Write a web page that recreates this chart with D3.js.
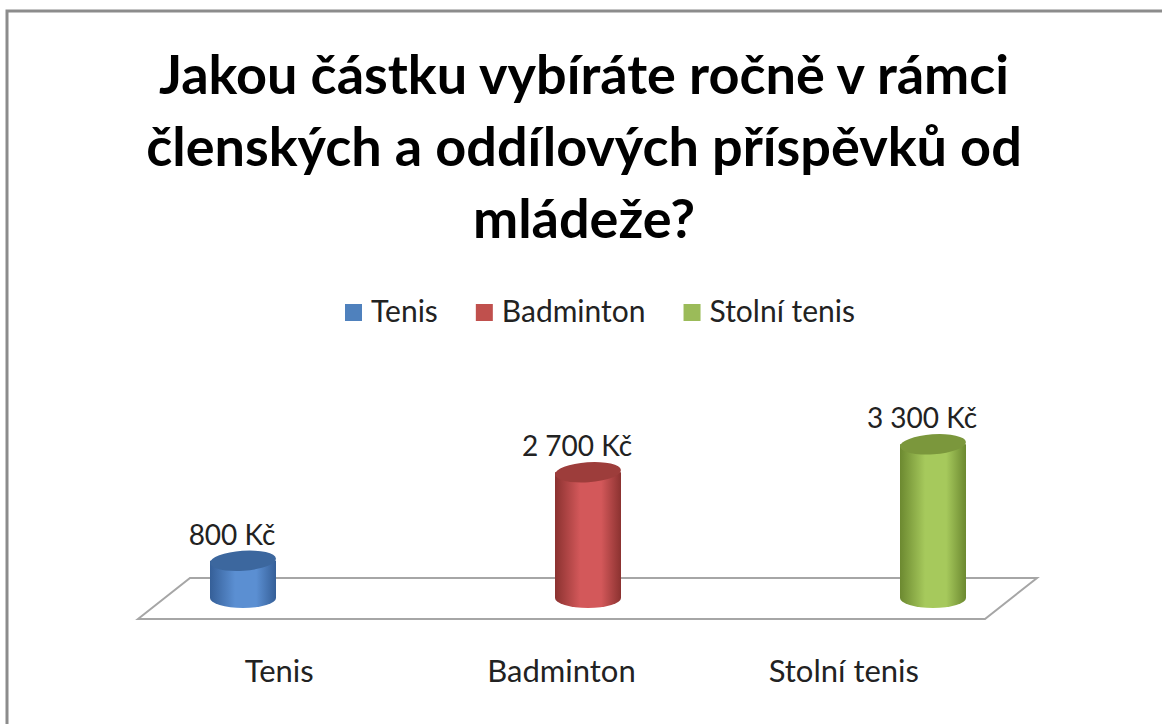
<!DOCTYPE html>
<html>
<head>
<meta charset="utf-8">
<script src="https://cdn.jsdelivr.net/npm/d3@7"></script>
<style>
  body { margin: 0; background: #fff; }
  text { font-family: Lato, "Open Sans", sans-serif; }
</style>
</head>
<body>
<div id="chart"></div>
<script>
const titleLines = ["Jakou částku vybíráte ročně v rámci", "členských a oddílových příspěvků od", "mládeže?"];
const categories = ["Tenis", "Badminton", "Stolní tenis"];
const values = [800, 2700, 3300];
const valueLabels = ["800 Kč", "2 700 Kč", "3 300 Kč"];
const colors = [
  { edge: "#355f98", mid: "#5b8fd2", top: "#3c679e", legend: "#4f81bd" },
  { edge: "#8b3230", mid: "#d3585a", top: "#9d3d3b", legend: "#c0504d" },
  { edge: "#6c8930", mid: "#a6c95c", top: "#7b973c", legend: "#9bbb59" }
];

const width = 1162, height = 724;
const svg = d3.select("#chart").append("svg")
  .attr("width", width).attr("height", height);

// outer frame
svg.append("path")
  .attr("d", `M7,${height} L7,11 L${width},11`)
  .attr("fill", "none").attr("stroke", "#8c8c8c").attr("stroke-width", 3);

// title
svg.append("g").selectAll("text").data(titleLines).join("text")
  .attr("x", 584)
  .attr("y", (d, i) => 94 + i * 72)
  .attr("text-anchor", "middle")
  .style("font-size", "54px")
  .style("font-weight", "bold")
  .attr("fill", "#000")
  .text(d => d);

// legend
const legend = svg.append("g");
let lx = 345;
categories.forEach((c, i) => {
  legend.append("rect").attr("x", lx).attr("y", 304).attr("width", 17).attr("height", 17)
    .attr("fill", colors[i].legend);
  const t = legend.append("text").attr("x", lx + 26).attr("y", 322)
    .style("font-size", "30px").attr("fill", "#222").text(c);
  lx += 26 + t.node().getComputedTextLength() + 38;
});

// floor (3D plane)
const floor = { fl: 138, fr: 985, fy: 619, bl: 190, br: 1037, by: 578 };
svg.append("path")
  .attr("d", `M${floor.fl},${floor.fy} L${floor.bl},${floor.by} L${floor.br},${floor.by} L${floor.fr},${floor.fy} Z`)
  .attr("fill", "#fff").attr("stroke", "#a6a6a6").attr("stroke-width", 2);

// scales
const xCyl = d3.scalePoint().domain(categories).range([243, 933]);
const xLab = d3.scaleBand().domain(categories).range([floor.fl, floor.fr]);
const y = d3.scaleLinear().domain([0, 3500]).range([598, 435]);

const defs = svg.append("defs");
colors.forEach((c, i) => {
  const g = defs.append("linearGradient").attr("id", "g" + i)
    .attr("x1", "0%").attr("x2", "100%").attr("y1", "0%").attr("y2", "0%");
  g.append("stop").attr("offset", "0%").attr("stop-color", c.edge);
  g.append("stop").attr("offset", "38%").attr("stop-color", c.mid);
  g.append("stop").attr("offset", "70%").attr("stop-color", c.mid);
  g.append("stop").attr("offset", "100%").attr("stop-color", c.edge);
});

const rx = 33, ry = 10;
const cyl = svg.append("g").selectAll("g").data(categories).join("g");
cyl.append("path")
  .attr("d", (d, i) => {
    const cx = xCyl(d), top = y(values[i]), bot = y(0);
    return `M${cx - rx},${top} L${cx - rx},${bot} A${rx},${ry} 0 0 0 ${cx + rx},${bot} L${cx + rx},${top} Z`;
  })
  .attr("fill", (d, i) => `url(#g${i})`);
cyl.append("ellipse")
  .attr("cx", d => xCyl(d))
  .attr("cy", (d, i) => y(values[i]))
  .attr("rx", rx).attr("ry", ry)
  .attr("transform", (d, i) => `rotate(-4 ${xCyl(d)} ${y(values[i])})`)
  .attr("fill", (d, i) => colors[i].top);

// value labels
svg.append("g").selectAll("text").data(categories).join("text")
  .attr("x", d => xCyl(d) - 11)
  .attr("y", (d, i) => y(values[i]) - 16)
  .attr("text-anchor", "middle")
  .style("font-size", "28px").attr("fill", "#222")
  .text((d, i) => valueLabels[i]);

// category labels
svg.append("g").selectAll("text").data(categories).join("text")
  .attr("x", d => xLab(d) + xLab.bandwidth() / 2)
  .attr("y", 682)
  .attr("text-anchor", "middle")
  .style("font-size", "31px").attr("fill", "#222")
  .text(d => d);
</script>
</body>
</html>
